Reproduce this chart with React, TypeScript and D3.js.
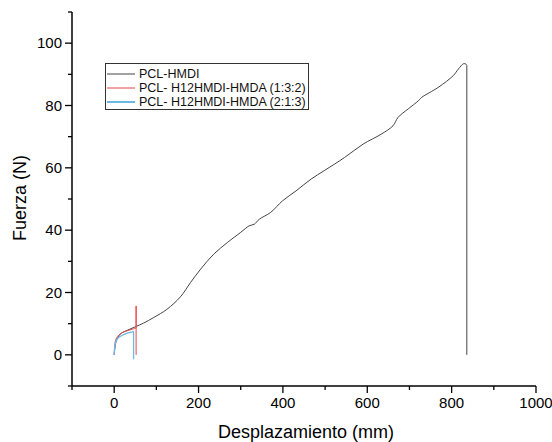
import React from "react";
import * as d3 from "d3";

// PCL-HMDI
const hmdiX = [0, 2, 5, 10, 14, 20, 30, 40, 50, 70, 94, 125, 157, 181, 205, 236, 268, 300, 320, 332, 344, 371, 399, 431, 467, 498, 546, 590, 633, 661, 673, 697, 721, 729, 768, 804, 816, 828, 834, 836, 836];
const hmdiY = [0, 2.5, 4.5, 5.8, 6.6, 7.2, 7.8, 8.4, 9.0, 10.2, 12, 14.6, 18.6, 23.2, 27.5, 32.3, 36, 39.3, 41.4, 41.9, 43.5, 45.7, 49.4, 52.6, 56.4, 59.1, 63.3, 67.6, 70.8, 73.5, 76.2, 78.9, 81.5, 82.6, 85.8, 89.6, 91.7, 93.4, 93.3, 92.8, 0];

// PCL- H12HMDI-HMDA (1:3:2)
const r132X = [0, 1, 3, 6, 10, 18, 28, 40, 50, 52, 52, 52];
const r132Y = [0, 2.5, 4.5, 5.5, 6.2, 7.0, 7.6, 8.1, 8.5, 8.6, 15.7, 0];

// PCL- H12HMDI-HMDA (2:1:3)
const r213X = [0, 1, 3, 6, 10, 18, 28, 38, 46, 46];
const r213Y = [0, 2, 3.8, 4.8, 5.5, 6.2, 6.8, 7.2, 7.5, -1.4];

// how many trailing points are the vertical break (drawn straight)
const breakPoints = [1, 2, 1];

const seriesNames = ["PCL-HMDI", "PCL- H12HMDI-HMDA (1:3:2)", "PCL- H12HMDI-HMDA (2:1:3)"];
const seriesColors = ["#444444", "#e8474a", "#6cb8e6"];

const xTicks = [0, 200, 400, 600, 800, 1000];
const xMinor = [-100, 100, 300, 500, 700, 900];
const yTicks = [0, 20, 40, 60, 80, 100];
const yMinor = [-10, 10, 30, 50, 70, 90, 110];

const W = 552;
const H = 442;
const font = "Arial, 'Liberation Sans', sans-serif";

export default function App() {
  const x = d3.scaleLinear().domain([-100, 1000]).range([72, 536]);
  const y = d3.scaleLinear().domain([-10, 110]).range([386, 12]);
  const smooth = d3
    .line<[number, number]>()
    .x(d => x(d[0]))
    .y(d => y(d[1]))
    .curve(d3.curveCatmullRom.alpha(0.5));
  const straight = d3
    .line<[number, number]>()
    .x(d => x(d[0]))
    .y(d => y(d[1]));

  const series = [
    d3.zip(hmdiX, hmdiY) as [number, number][],
    d3.zip(r132X, r132Y) as [number, number][],
    d3.zip(r213X, r213Y) as [number, number][],
  ];

  const x0 = x.range()[0];
  const yb = y.range()[0];

  return (
    <svg width={W} height={H} style={{ position: "absolute", left: 0, top: 0, background: "#fff" }} fontFamily={font}>
      {series.map((s, i) => {
        const cut = s.length - breakPoints[i];
        return (
          <g key={i} fill="none" stroke={seriesColors[i]} strokeWidth={i === 2 ? 1.3 : 1}>
            <path d={smooth(s.slice(0, cut)) || ""} />
            <path d={straight(s.slice(cut - 1)) || ""} />
          </g>
        );
      })}

      {/* y axis */}
      <line x1={x0} x2={x0} y1={y.range()[1]} y2={yb} stroke="#000" strokeWidth={1.5} />
      {yTicks.map(t => (
        <g key={t}>
          <line x1={x0 - 7} x2={x0} y1={y(t)} y2={y(t)} stroke="#000" strokeWidth={1.3} />
          <text x={x0 - 10} y={y(t)} dy="0.35em" textAnchor="end" fontSize={15}>{t}</text>
        </g>
      ))}
      {yMinor.map(t => (
        <line key={t} x1={x0 - 4} x2={x0} y1={y(t)} y2={y(t)} stroke="#000" strokeWidth={1.3} />
      ))}

      {/* x axis */}
      <line x1={x0} x2={x.range()[1]} y1={yb} y2={yb} stroke="#000" strokeWidth={1.5} />
      {xTicks.map(t => (
        <g key={t}>
          <line x1={x(t)} x2={x(t)} y1={yb} y2={yb + 7} stroke="#000" strokeWidth={1.3} />
          <text x={x(t)} y={408} textAnchor="middle" fontSize={15}>{t}</text>
        </g>
      ))}
      {xMinor.map(t => (
        <line key={t} x1={x(t)} x2={x(t)} y1={yb} y2={yb + 4} stroke="#000" strokeWidth={1.3} />
      ))}

      <text x={306} y={438} textAnchor="middle" fontSize={18}>Desplazamiento (mm)</text>
      <text transform="translate(26,198) rotate(-90)" textAnchor="middle" fontSize={18}>Fuerza (N)</text>

      {/* legend */}
      <rect x={105.5} y={63.5} width={203} height={46} fill="#fff" stroke="#333" strokeWidth={1} />
      {seriesNames.map((n, i) => {
        const ly = 74 + i * 14;
        return (
          <g key={n}>
            <line x1={107} x2={135} y1={ly} y2={ly} stroke={seriesColors[i]} strokeWidth={i === 2 ? 2 : 1} />
            <text x={139} y={ly} dy="0.35em" fontSize={12.5} fill="#111">{n}</text>
          </g>
        );
      })}
    </svg>
  );
}
